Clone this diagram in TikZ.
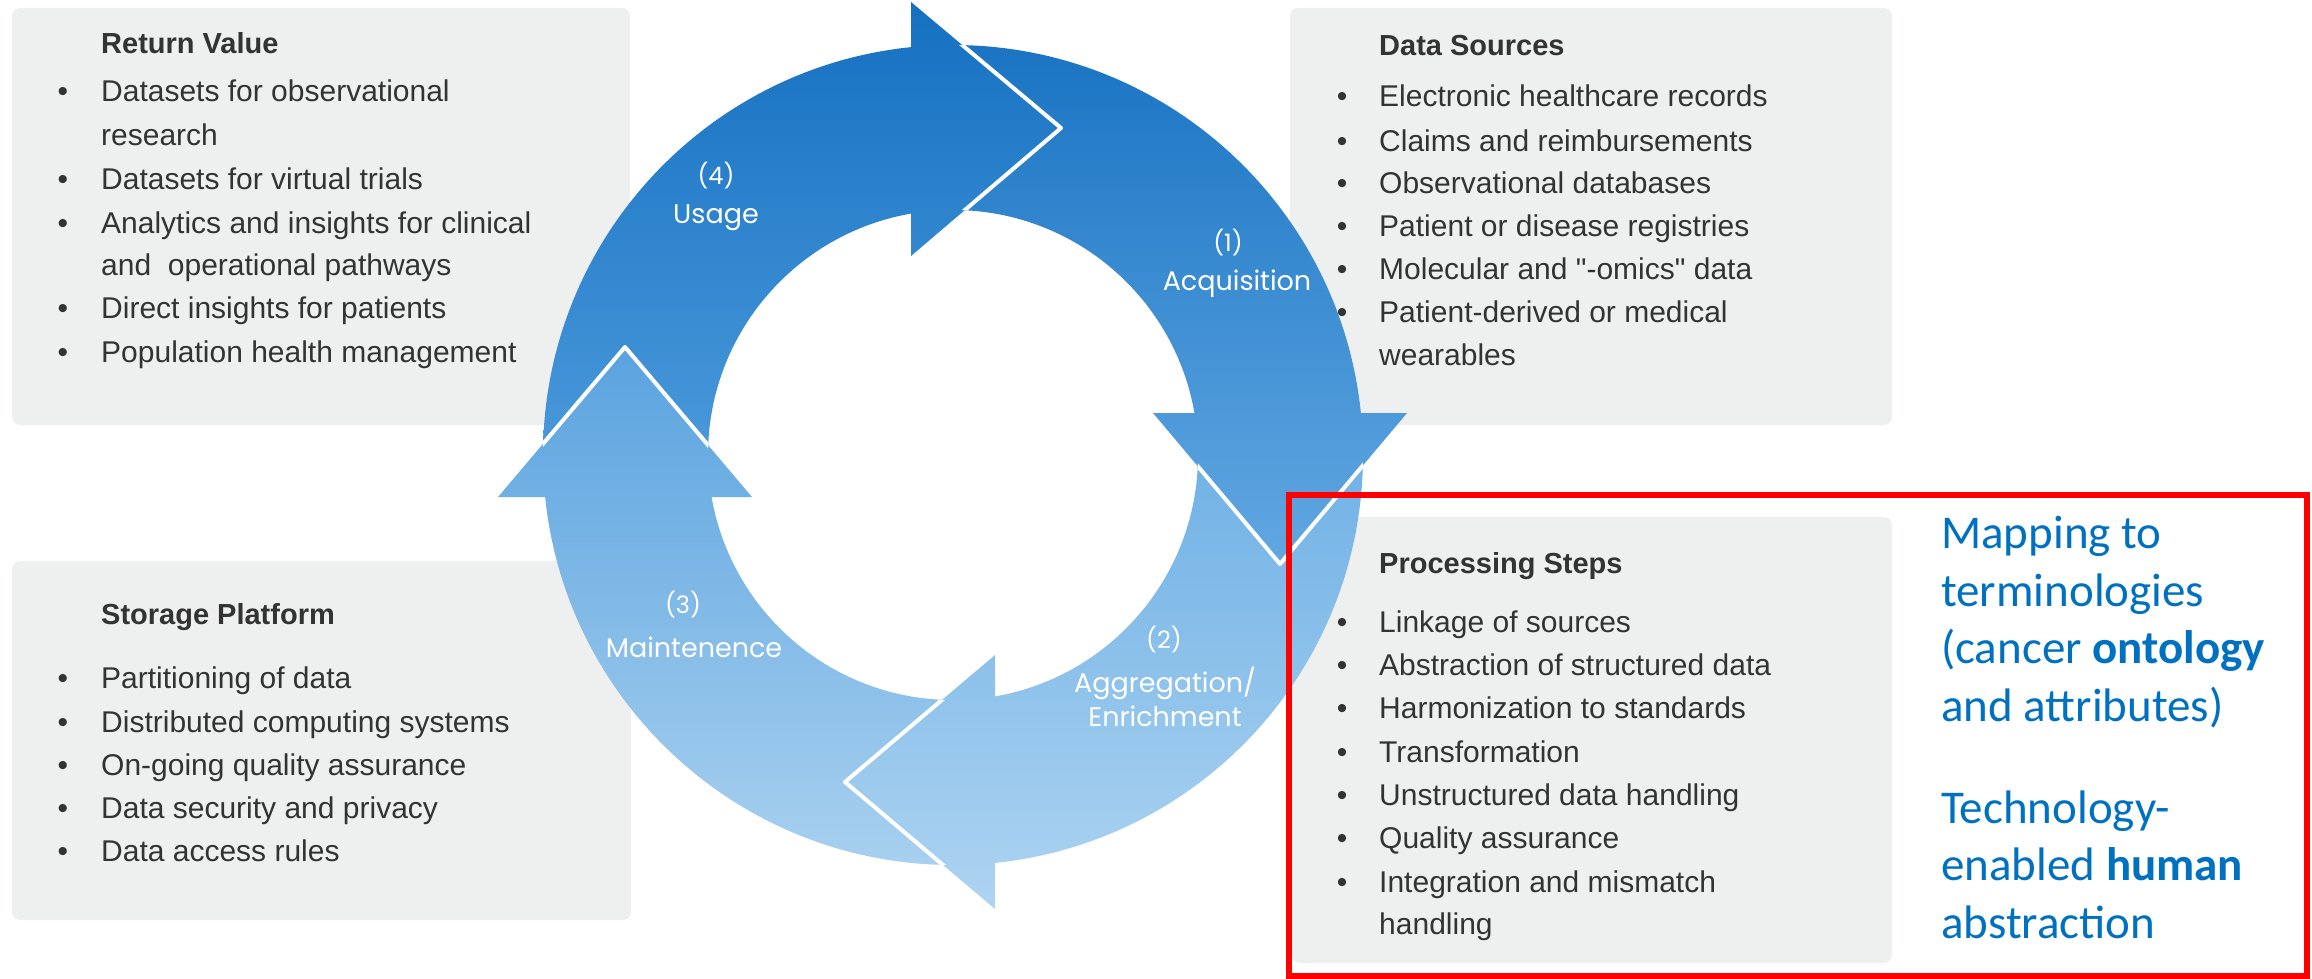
\documentclass[tikz,border=0pt]{standalone}
\usepackage{fontspec}
\setmainfont{Liberation Sans}
\newfontfamily\ringfont{Poppins}
\newfontfamily\notefont{Carlito}
\definecolor{boxgray}{RGB}{238,239,239}
\definecolor{txtgray}{RGB}{51,51,51}
\definecolor{noteblue}{RGB}{0,112,192}
\definecolor{sfourt}{HTML}{1570C1}
\definecolor{sfourb}{HTML}{4E9CDC}
\definecolor{sonet}{HTML}{1A74C3}
\definecolor{soneb}{HTML}{62A8E2}
\definecolor{stwot}{HTML}{6AAEE4}
\definecolor{stwob}{HTML}{AED4F1}
\definecolor{sthreet}{HTML}{5AA3DF}
\definecolor{sthreeb}{HTML}{A8D0EF}
\begin{document}
\begin{tikzpicture}[x=1pt,y=-1pt,
  panel/.style={fill=boxgray, rounded corners=8pt},
  ttl/.style={anchor=base west, inner sep=0pt, font=\fontsize{29}{34}\selectfont\bfseries, text=txtgray},
  itm/.style={anchor=base west, inner sep=0pt, font=\fontsize{30}{36}\selectfont, text=txtgray},
  bul/.style={anchor=base, inner sep=0pt, font=\fontsize{30}{36}\selectfont, text=txtgray},
  note/.style={anchor=base west, inner sep=0pt, font=\notefont\fontsize{47}{57}\selectfont, text=noteblue},
  num/.style={anchor=base, inner sep=0pt, font=\ringfont\fontsize{24}{28}\selectfont, text=white},
  lbl/.style={anchor=base, inner sep=0pt, font=\ringfont\fontsize{27}{32}\selectfont, text=white},
  headline/.style={white, line width=4pt, line join=round, line cap=round},
]
\useasboundingbox (0,0) rectangle (2312,979);

% ---------- grey panels ----------
\fill[panel] (12,8) rectangle (630,425);
\fill[panel] (1290,8) rectangle (1892,425);
\fill[panel] (12,561) rectangle (631,920);
\fill[panel] (1292,517) rectangle (1892,963);

% ---------- ring bodies ----------
\begin{scope}[even odd rule]
  \clip (953,455) circle[radius=410pt] (953,455) circle[radius=245pt];
  % segment 4 (usage)
  \begin{scope}
    \clip (953,497) -- (300,497) -- (300,-10) -- (911,-10) -- (911,455) -- cycle;
    \shade[top color=sfourt, bottom color=sfourb] (300,0) rectangle (1500,497);
  \end{scope}
  % segment 1 (acquisition)
  \begin{scope}
    \clip (911,455) -- (911,-10) -- (1500,-10) -- (1500,413) -- (953,413) -- cycle;
    \shade[top color=sonet, bottom color=soneb] (300,44) rectangle (1500,566);
  \end{scope}
  % segment 2 (aggregation)
  \begin{scope}
    \clip (953,413) -- (1500,413) -- (1500,1000) -- (995,1000) -- (995,455) -- cycle;
    \shade[top color=stwot, bottom color=stwob] (300,413) rectangle (1500,910);
  \end{scope}
  % segment 3 (maintenance)
  \begin{scope}
    \clip (995,455) -- (995,1000) -- (300,1000) -- (300,497) -- (953,497) -- cycle;
    \shade[top color=sthreet, bottom color=sthreeb] (300,346) rectangle (1500,866);
  \end{scope}
\end{scope}

% ---------- arrow heads ----------
\begin{scope}
  \clip (911,2) -- (1061,128) -- (911,256) -- cycle;
  \shade[top color=sfourt, bottom color=sfourb] (300,0) rectangle (1500,497);
\end{scope}
\begin{scope}
  \clip (1407,413) -- (1280,564) -- (1153,413) -- cycle;
  \shade[top color=sonet, bottom color=soneb] (300,44) rectangle (1500,566);
\end{scope}
\begin{scope}
  \clip (995,909) -- (845,782) -- (995,655) -- cycle;
  \shade[top color=stwot, bottom color=stwob] (300,413) rectangle (1500,910);
\end{scope}
\begin{scope}
  \clip (498,497) -- (625,347) -- (752,497) -- cycle;
  \shade[top color=sthreet, bottom color=sthreeb] (300,346) rectangle (1500,866);
\end{scope}
\begin{scope}[even odd rule]
  \clip (953,455) circle[radius=410pt] (953,455) circle[radius=245pt];
  \draw[headline] (911,2) -- (1061,128) -- (911,256);
  \draw[headline] (1407,413) -- (1280,564) -- (1153,413);
  \draw[headline] (995,909) -- (845,782) -- (995,655);
  \draw[headline] (498,497) -- (625,347) -- (752,497);
\end{scope}

% ---------- ring labels ----------
\node[num] (n4) at (716,184) {(4)};
\node[lbl] (l4) at (716,223) {Usage};
\node[num] (n1) at (1228,251) {(1)};
\node[lbl] (l1) at (1237,290) {Acquisition};
\node[num] (n2) at (1164,648) {(2)};
\node[lbl] (l2a) at (1165,692) {Aggregation/};
\node[lbl] (l2b) at (1165,726) {Enrichment};
\node[num] (n3) at (683,613) {(3)};
\node[lbl] (l3) at (694,657) {Maintenence};

% ---------- Return Value ----------
\node[ttl] (rv) at (101,54) {Return Value};
\node[bul] (rvb1) at (63,102) {•};
\node[itm] (rv1) at (101,102) {Datasets for observational};
\node[itm] (rv1b) at (101,146) {research};
\node[bul] (rvb2) at (63,189) {•};
\node[itm] (rv2) at (101,189) {Datasets for virtual trials};
\node[bul] (rvb3) at (63,233) {•};
\node[itm] (rv3) at (101,233) {Analytics and insights for clinical};
\node[itm] (rv3b) at (101,275) {and\ \ operational pathways};
\node[bul] (rvb4) at (63,318) {•};
\node[itm] (rv4) at (101,318) {Direct insights for patients};
\node[bul] (rvb5) at (63,362) {•};
\node[itm] (rv5) at (101,362) {Population health management};

% ---------- Data Sources ----------
\node[ttl] (ds) at (1379,56) {Data Sources};
\node[bul] (dsb1) at (1342,107) {•};
\node[itm] (ds1) at (1379,107) {Electronic healthcare records};
\node[bul] (dsb2) at (1342,151) {•};
\node[itm] (ds2) at (1379,151) {Claims and reimbursements};
\node[bul] (dsb3) at (1342,193) {•};
\node[itm] (ds3) at (1379,193) {Observational databases};
\node[bul] (dsb4) at (1342,236) {•};
\node[itm] (ds4) at (1379,236) {Patient or disease registries};
\node[bul] (dsb5) at (1342,279) {•};
\node[itm] (ds5) at (1379,279) {\addfontfeatures{Ligatures=TeXOff}Molecular and "-omics" data};
\node[bul] (dsb6) at (1342,322) {•};
\node[itm] (ds6) at (1379,322) {Patient-derived or medical};
\node[itm] (ds6b) at (1379,365) {wearables};

% ---------- Storage Platform ----------
\node[ttl] (sp) at (101,624) {Storage Platform};
\node[bul] (spb1) at (63,688) {•};
\node[itm] (sp1) at (101,688) {Partitioning of data};
\node[bul] (spb2) at (63,732) {•};
\node[itm] (sp2) at (101,732) {Distributed computing systems};
\node[bul] (spb3) at (63,775) {•};
\node[itm] (sp3) at (101,775) {On-going quality assurance};
\node[bul] (spb4) at (63,818) {•};
\node[itm] (sp4) at (101,818) {Data security and privacy};
\node[bul] (spb5) at (63,861) {•};
\node[itm] (sp5) at (101,861) {Data access rules};

% ---------- Processing Steps ----------
\node[ttl] (ps) at (1379,573) {Processing Steps};
\node[bul] (psb1) at (1342,632) {•};
\node[itm] (ps1) at (1379,632) {Linkage of sources};
\node[bul] (psb2) at (1342,675) {•};
\node[itm] (ps2) at (1379,675) {Abstraction of structured data};
\node[bul] (psb3) at (1342,718) {•};
\node[itm] (ps3) at (1379,718) {Harmonization to standards};
\node[bul] (psb4) at (1342,762) {•};
\node[itm] (ps4) at (1379,762) {Transformation};
\node[bul] (psb5) at (1342,805) {•};
\node[itm] (ps5) at (1379,805) {Unstructured data handling};
\node[bul] (psb6) at (1342,848) {•};
\node[itm] (ps6) at (1379,848) {Quality assurance};
\node[bul] (psb7) at (1342,892) {•};
\node[itm] (ps7) at (1379,892) {Integration and mismatch};
\node[itm] (ps7b) at (1379,934) {handling};

% ---------- blue notes ----------
\node[note] (m1) at (1941,548) {Mapping to};
\node[note] (m2) at (1941,606) {terminologies};
\node[note] (m3) at (1941,663) {(cancer \textbf{ontology}};
\node[note] (m4) at (1941,721) {and attributes)};
\node[note] (t1) at (1941,823) {Technology-};
\node[note] (t2) at (1941,880) {enabled \textbf{human}};
\node[note] (t3) at (1941,938) {abstraction};

% ---------- red frame ----------
\draw[red, line width=6pt] (1289,495) rectangle (2307,976);
\end{tikzpicture}
\end{document}
